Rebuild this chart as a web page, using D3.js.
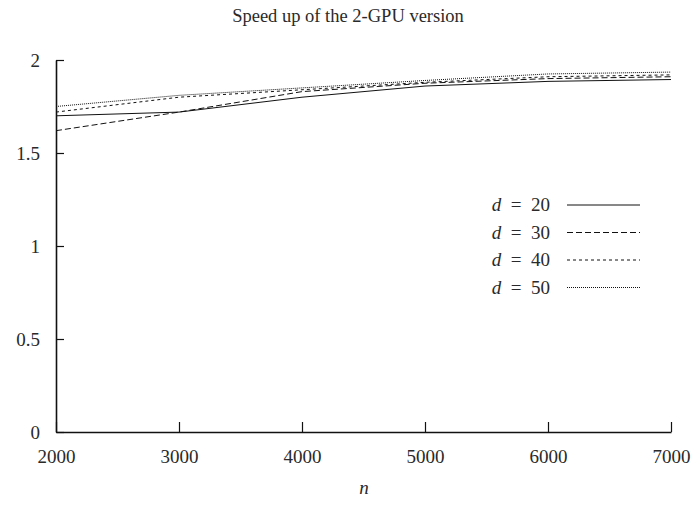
<!DOCTYPE html>
<html>
<head>
<meta charset="utf-8">
<script src="https://cdn.jsdelivr.net/npm/d3@7"></script>
<style>
body { margin: 0; background: #fff; }
text { font-family: "Liberation Serif", serif; fill: #2a2a2a; }
</style>
</head>
<body>
<script>
// data
var nValues = [2000, 3000, 4000, 5000, 6000, 7000];
var d20 = [1.70, 1.72, 1.80, 1.86, 1.885, 1.895];
var d30 = [1.62, 1.72, 1.83, 1.875, 1.90, 1.91];
var d40 = [1.72, 1.80, 1.84, 1.88, 1.91, 1.92];
var d50 = [1.75, 1.81, 1.85, 1.89, 1.925, 1.935];
var seriesNames = ["20", "30", "40", "50"];
var yTicks = [0, 0.5, 1, 1.5, 2];

var series = [d20, d30, d40, d50].map(function(vals, i) {
	return { name: seriesNames[i], values: vals.map(function(v, j) { return { n: nValues[j], v: v }; }) };
});
var dashes = ["none", "6,3", "3,3", "1,1"];

var width = 697, height = 508;
var margin = { top: 60, right: 26, bottom: 76, left: 56 };

var svg = d3.select("body").append("svg")
	.attr("width", width).attr("height", height);

var x = d3.scaleLinear().domain([2000, 7000]).range([margin.left, width - margin.right]);
var y = d3.scaleLinear().domain([0, 2]).range([height - margin.bottom, margin.top]);

svg.append("text").attr("x", 348).attr("y", 22)
	.attr("text-anchor", "middle").style("font-size", "18.5px")
	.text("Speed up of the 2-GPU version");

// axes with inward ticks
var xAxis = svg.append("g").attr("transform", "translate(0," + y(0) + ")")
	.call(d3.axisBottom(x).tickValues(nValues).tickSizeInner(-10).tickSizeOuter(0).tickPadding(18).tickFormat(d3.format("d")));
var yAxis = svg.append("g").attr("transform", "translate(" + x(2000) + ",0)")
	.call(d3.axisLeft(y).tickValues(yTicks).tickSizeInner(-8).tickSizeOuter(0).tickPadding(16).tickFormat(function(d) { return d; }));

[xAxis, yAxis].forEach(function(g) {
	g.select(".domain").attr("stroke", "#111").attr("stroke-width", 1.6);
	g.selectAll(".tick line").attr("stroke", "#111").attr("stroke-width", 1.2);
	g.selectAll(".tick text").style("font-size", "19px").style("font-family", "Liberation Serif, serif").attr("fill", "#2a2a2a");
});

svg.append("text").attr("x", 364).attr("y", 494)
	.attr("text-anchor", "middle").style("font-size", "19px").style("font-style", "italic")
	.text("n");

var line = d3.line().x(function(d) { return x(d.n); }).y(function(d) { return y(d.v); });

svg.selectAll(".series").data(series).enter().append("path")
	.attr("class", "series")
	.attr("fill", "none")
	.attr("stroke", "#111")
	.attr("stroke-width", 1)
	.attr("stroke-dasharray", function(d, i) { return dashes[i]; })
	.attr("d", function(d) { return line(d.values); });

var legend = svg.selectAll(".legend").data(series).enter().append("g")
	.attr("class", "legend")
	.attr("transform", function(d, i) { return "translate(0," + (205 + i * 27.5) + ")"; });

legend.append("line").attr("x1", 567).attr("x2", 640).attr("y1", 0).attr("y2", 0)
	.attr("stroke", "#111").attr("stroke-width", 1)
	.attr("stroke-dasharray", function(d, i) { return dashes[i]; });

var lt = legend.append("text").attr("x", 550).attr("y", 6)
	.attr("text-anchor", "end").style("font-size", "19px");
lt.append("tspan").style("font-style", "italic").text("d");
lt.append("tspan").text(function(d) { return "\u2002=\u2002" + d.name; });
</script>
</body>
</html>
